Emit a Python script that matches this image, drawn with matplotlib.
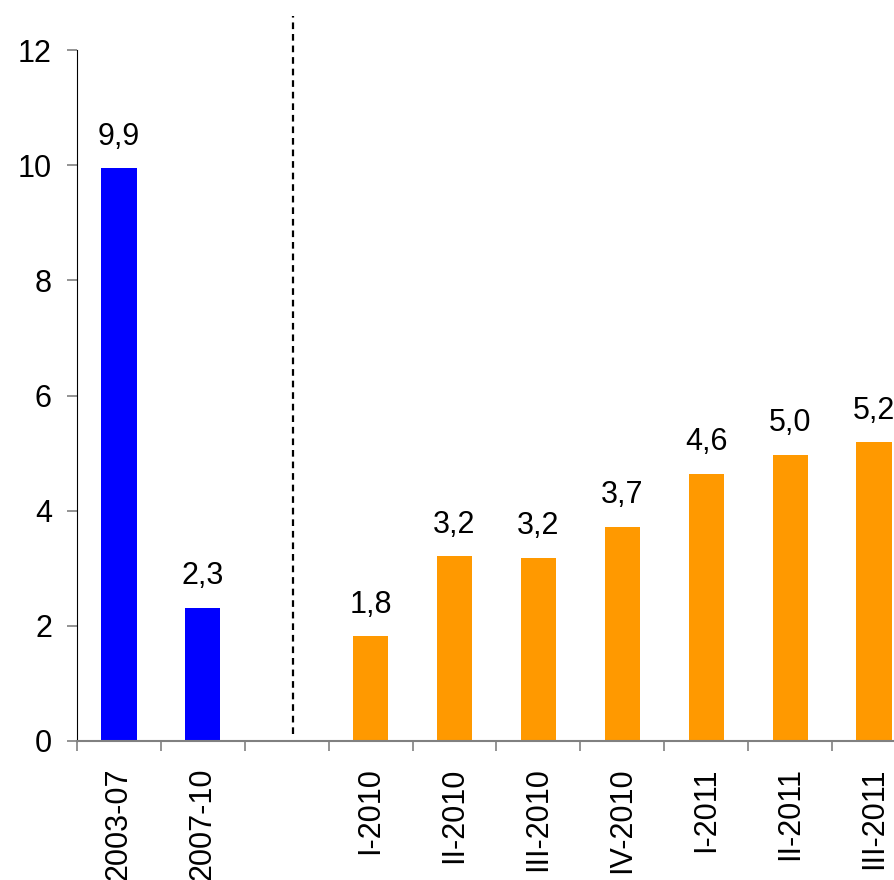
import matplotlib.pyplot as plt
import numpy as np

plt.rcParams['font.family'] = ['Liberation Sans', 'DejaVu Sans']

# categories (the empty slot separates the two periods)
categories = ['2003-07', '2007-10', '', 'I-2010', 'II-2010', 'III-2010', 'IV-2010',
              'I-2011', 'II-2011', 'III-2011']
values = [9.95, 2.31, np.nan, 1.82, 3.21, 3.18, 3.72, 4.64, 4.97, 5.19]
colors = ['#0000FF', '#0000FF', 'none'] + ['#FF9900'] * 7

x = np.arange(len(categories))

fig = plt.figure(figsize=(8.95, 8.80), dpi=100)
ax = fig.add_axes([0.086, 0.158, 0.914, 0.785])

ax.bar(x, values, width=0.42, color=colors)

for xi, v in zip(x, values):
    if np.isnan(v):
        continue
    ax.annotate(f'{v:.1f}'.replace('.', ','), (xi, v), xytext=(0, 12),
                textcoords='offset points', ha='center', va='bottom', fontsize=22)

# dashed separator
ax.plot([2.08, 2.08], [0.12, 12.6], color='black', linestyle=(0, (3, 2.2)),
        linewidth=1.6, clip_on=False)

ax.set_xlim(-0.5, 9.25)
ax.set_ylim(0, 12)
ax.set_yticks(np.arange(0, 13, 2))
ax.tick_params(axis='y', labelsize=22, length=7, width=1.2, color='#808080', pad=11)

ax.set_xticks(x)
ax.set_xticklabels(categories, rotation=90)
ax.set_xticks(np.append(-0.5, x[:-1] + 0.5), minor=True)
ax.tick_params(axis='x', which='major', length=0, pad=19, labelsize=22)
ax.tick_params(axis='x', which='minor', length=7, width=1.2, color='#808080')

ax.spines['top'].set_visible(False)
ax.spines['right'].set_visible(False)
ax.spines['left'].set_color('black')
ax.spines['bottom'].set_color('#808080')
ax.spines['bottom'].set_linewidth(1.5)

plt.savefig('out.png', dpi=100)
plt.close()
